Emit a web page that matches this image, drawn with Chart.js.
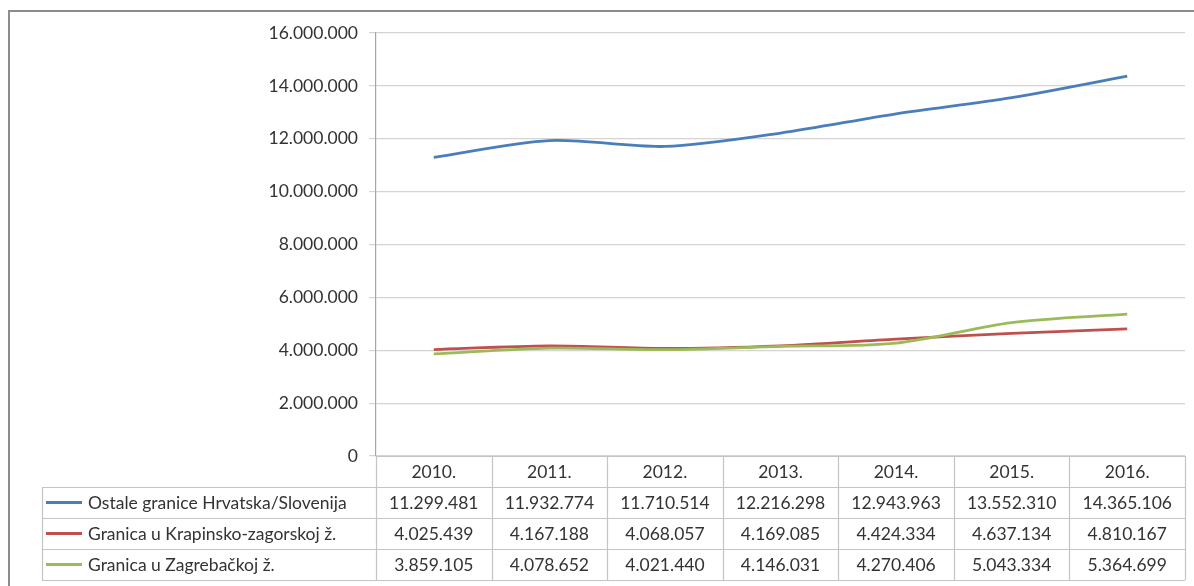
<!DOCTYPE html>
<html>
<head>
<meta charset="utf-8">
<script src="https://cdn.jsdelivr.net/npm/chart.js@4/dist/chart.umd.min.js"></script>
<style>
  html, body { margin: 0; padding: 0; background: #fff; }
  #frame { position: absolute; left: 8px; top: 10px; width: 1210px; height: 620px; border: 2px solid #8c8c8c; box-sizing: border-box; }
  #wrap { position: absolute; left: 0; top: 0; width: 1194px; height: 586px; }
</style>
</head>
<body>
<div id="frame"></div>
<div id="wrap"><canvas id="chart" width="1194" height="586"></canvas></div>
<script>
// data (table under the chart)
const years = ['2010.', '2011.', '2012.', '2013.', '2014.', '2015.', '2016.'];
const seriesNames = ['Ostale granice Hrvatska/Slovenija', 'Granica u Krapinsko-zagorskoj ž.', 'Granica u Zagrebačkoj ž.'];
const ostale = [11299481, 11932774, 11710514, 12216298, 12943963, 13552310, 14365106];
const krapina = [4025439, 4167188, 4068057, 4169085, 4424334, 4637134, 4810167];
const zagreb = [3859105, 4078652, 4021440, 4146031, 4270406, 5043334, 5364699];
const yMax = 16000000;
const yStep = 2000000;

const colors = ['#4a7ebb', '#c0504d', '#9bbb59'];
const textColor = '#333333';
const fontFamily = 'Lato, "Open Sans", sans-serif';

const fmt = n => String(n).replace(/\B(?=(\d{3})+(?!\d))/g, '.');

// Excel-style data table under the plot, lined up with the category scale
const dataTable = {
  id: 'dataTable',
  afterDraw(chart) {
    const ctx = chart.ctx;
    const x = chart.scales.x;
    const area = chart.chartArea;
    const half = (x.getPixelForValue(1) - x.getPixelForValue(0)) / 2;
    const rowH = 31;
    const top = area.bottom;
    const tableLeft = 42;
    const rows = [ostale, krapina, zagreb];

    ctx.save();
    ctx.strokeStyle = '#c4c4c4';
    ctx.lineWidth = 1.2;
    ctx.beginPath();
    ctx.moveTo(area.left, top + 0.5);
    ctx.lineTo(area.right, top + 0.5);
    for (let i = 0; i <= years.length; i++) {
      const px = Math.round(x.getPixelForValue(i) - half) + 0.5;
      ctx.moveTo(px, top);
      ctx.lineTo(px, top + rowH * 4);
    }
    for (let r = 1; r <= 4; r++) {
      const py = Math.round(top + rowH * r) + 0.5;
      ctx.moveTo(tableLeft, py);
      ctx.lineTo(area.right, py);
    }
    ctx.moveTo(tableLeft + 0.5, top + rowH);
    ctx.lineTo(tableLeft + 0.5, top + rowH * 4);
    ctx.stroke();

    ctx.fillStyle = textColor;
    ctx.font = '17.5px ' + fontFamily;
    ctx.textBaseline = 'middle';
    ctx.textAlign = 'center';
    years.forEach((y, i) => {
      ctx.fillText(y, x.getPixelForValue(i), top + rowH / 2 + 1);
    });
    rows.forEach((vals, r) => {
      const cy = top + rowH * (r + 1.5) + 1;
      vals.forEach((v, i) => {
        ctx.fillText(fmt(v), x.getPixelForValue(i), cy);
      });
    });

    ctx.textAlign = 'left';
    seriesNames.forEach((name, r) => {
      const cy = top + rowH * (r + 1.5);
      ctx.strokeStyle = colors[r];
      ctx.lineWidth = 3;
      ctx.beginPath();
      ctx.moveTo(tableLeft + 4, cy);
      ctx.lineTo(tableLeft + 40, cy);
      ctx.stroke();
      ctx.fillText(name, tableLeft + 46, cy + 1);
    });
    ctx.restore();
  }
};

const ctx = document.getElementById('chart').getContext('2d');
new Chart(ctx, {
  type: 'line',
  data: {
    labels: years,
    datasets: [
      { label: seriesNames[0], data: ostale, borderColor: colors[0], order: 3 },
      { label: seriesNames[1], data: krapina, borderColor: colors[1], order: 2 },
      { label: seriesNames[2], data: zagreb, borderColor: colors[2], order: 1 },
    ],
  },
  options: {
    responsive: false,
    animation: false,
    devicePixelRatio: 1,
    layout: { padding: { left: 0, right: 9, top: 33, bottom: 0 } },
    elements: {
      line: { borderWidth: 2.8, tension: 0.3, fill: false },
      point: { radius: 0 },
    },
    scales: {
      x: {
        offset: true,
        ticks: { display: false },
        grid: { display: false, offset: true },
        border: { display: false },
        afterFit: scale => { scale.height = 130; },
      },
      y: {
        min: 0,
        max: yMax,
        ticks: {
          stepSize: yStep,
          callback: v => fmt(v),
          color: textColor,
          font: { family: fontFamily, size: 17.5 },
          padding: 11,
        },
        grid: { color: '#d4d4d4', lineWidth: 1.2, tickLength: 7 },
        border: { color: '#a6a6a6', width: 1.2 },
        afterFit: scale => { scale.width = 376; },
      },
    },
    plugins: {
      legend: { display: false },
      tooltip: { enabled: false },
    },
  },
  plugins: [dataTable],
});
</script>
</body>
</html>
